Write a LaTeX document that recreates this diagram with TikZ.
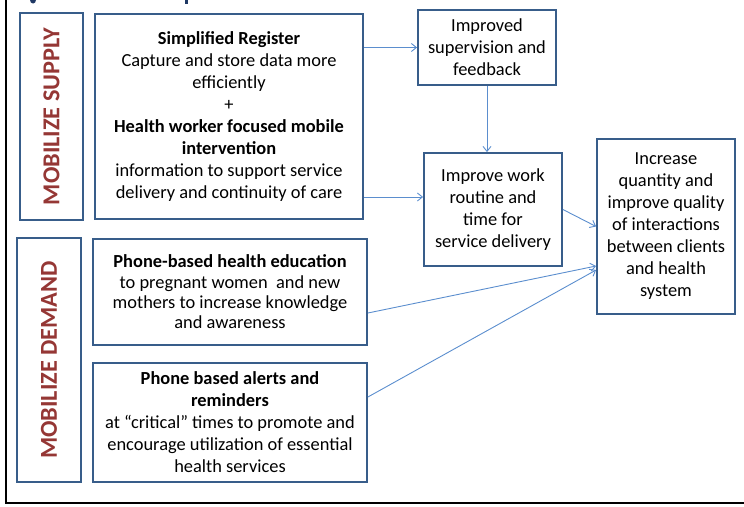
\documentclass[tikz,border=0pt]{standalone}
\usepackage{fontspec}
\setmainfont{Carlito}
\usetikzlibrary{arrows.meta}
\definecolor{boxblue}{RGB}{56,93,138}
\definecolor{arrowblue}{RGB}{91,142,206}
\definecolor{labelred}{RGB}{149,55,53}
\definecolor{titleblue}{RGB}{31,56,100}
\tikzset{
  box/.style={draw=boxblue, line width=1.8pt, align=center, inner sep=0pt, rectangle,
    font=\fontsize{18.4}{22}\selectfont},
  sidebox/.style={draw=boxblue, line width=1.8pt, inner sep=0pt, rectangle},
  sidelabel/.style={rotate=90, text=labelred, font=\fontsize{24.3}{28}\selectfont\bfseries},
  conn/.style={draw=arrowblue, line width=0.9pt, -{Straight Barb[length=5pt,width=8pt]}},
  frame/.style={draw=black, line width=2pt}
}
\begin{document}
\begin{tikzpicture}[x=1pt,y=-1pt]
\useasboundingbox (0,0) rectangle (744,506);
% frame
\coordinate (ftop) at (6,0);
\coordinate (fcorner) at (6,503);
\coordinate (fright) at (744,503);
\draw[frame] (ftop) -- (fcorner) -- (fright);
% title remnants
\fill[titleblue] (33,0) ellipse [x radius=3, y radius=3.5];
\fill[titleblue] (184.5,0) rectangle (188,4);
% side labels
\node[sidebox, minimum width=63pt, minimum height=207pt] (ms) at (51.5,116.5) {};
\node[sidelabel] at (ms.center) {MOBILIZE SUPPLY};
\node[sidebox, minimum width=64pt, minimum height=244pt] (md) at (49,360) {};
\node[sidelabel] at (md.center) {MOBILIZE DEMAND};
% left boxes
\node[box, minimum width=268pt, minimum height=205pt] (sr) at (229,116.5)
  {\textbf{Simplified Register}\\
   Capture and store data more\\
   efficiently\\
   +\\
   \textbf{Health worker focused mobile}\\
   \textbf{intervention}\\
   information to support service\\
   delivery and continuity of care};
\node[box, minimum width=274pt, minimum height=106pt, font=\fontsize{18.4}{20.3}\selectfont] (ed) at (230,292)
  {\textbf{Phone-based health education}\\
   to pregnant women\ \ and new\\
   mothers to increase knowledge\\
   and awareness};
\node[box, minimum width=274pt, minimum height=119pt] (al) at (230,422.5)
  {\textbf{Phone based alerts and}\\
   \textbf{reminders}\\
   at “critical” times to promote and\\
   encourage utilization of essential\\
   health services};
% middle and right boxes
\node[box, minimum width=138pt, minimum height=75pt] (sup) at (487,47.5)
  {Improved\\supervision and\\feedback};
\node[box, minimum width=138pt, minimum height=113pt] (work) at (493,209.5)
  {Improve work\\routine and\\time for\\service delivery};
\node[box, minimum width=138pt, minimum height=175pt] (inc) at (666,226.5)
  {Increase\\quantity and\\improve quality\\of interactions\\between clients\\and health\\system};
% connectors
\draw[conn] (sr.east |- sup.west) -- (sup.west);
\draw[conn] (sup.south) -- (sup.south |- work.north);
\coordinate (w3) at ([yshift=12.5pt]work.west);
\draw[conn] (sr.east |- w3) -- (w3);
\draw[conn] (work.east) -- (inc.west);
\draw[conn] ([yshift=-21pt]ed.east) -- ([yshift=-39.5pt]inc.west);
\draw[conn] ([yshift=25.5pt]al.east) -- ([yshift=-43.5pt]inc.west);
\end{tikzpicture}
\end{document}
